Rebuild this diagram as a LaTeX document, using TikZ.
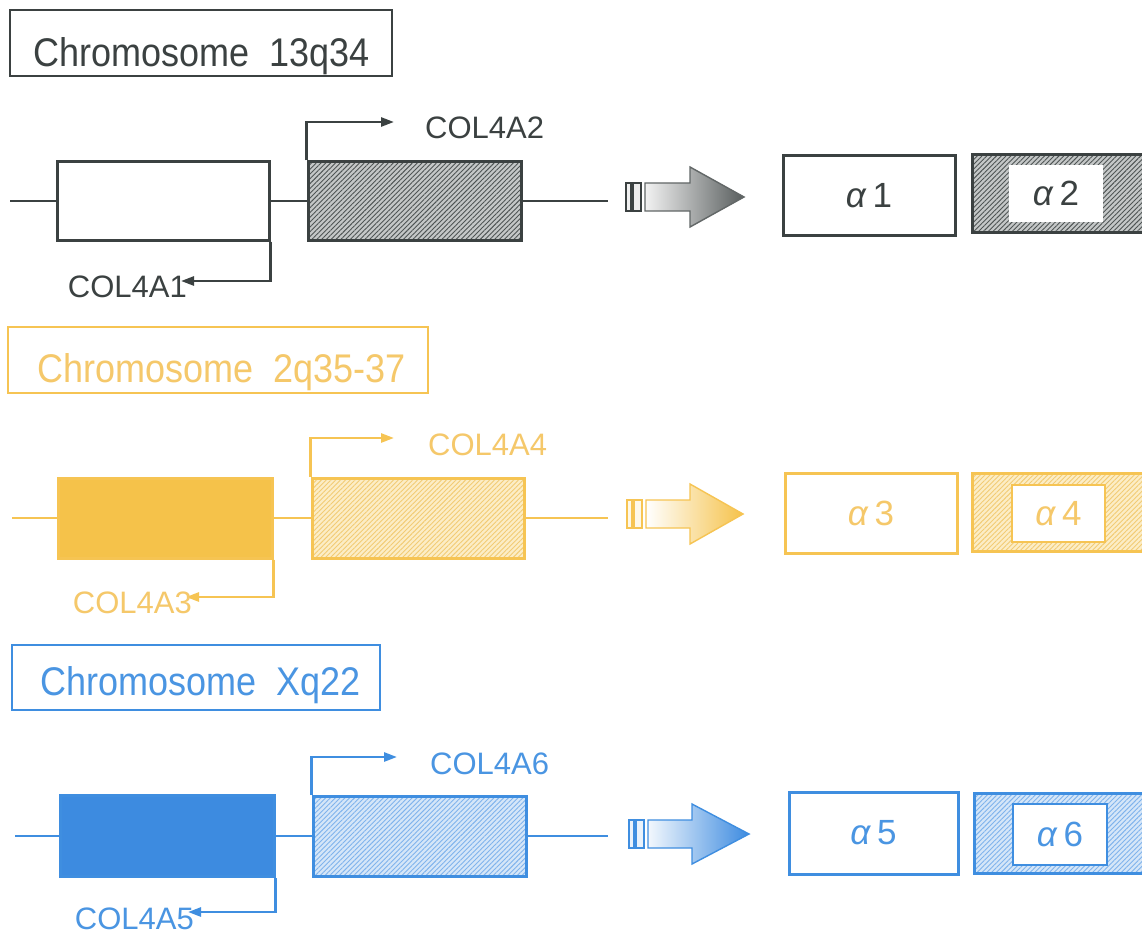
\documentclass[tikz,border=0pt]{standalone}
\usepackage{graphicx}
\usepackage{fontspec}
\setmainfont{Liberation Sans}
\usetikzlibrary{arrows.meta,patterns.meta}
\definecolor{dk}{HTML}{3B4141}
\definecolor{dkhb}{HTML}{C4C7C7}
\definecolor{dkhl}{HTML}{4E5454}
\definecolor{yl}{HTML}{F6C453}
\definecolor{ylfill}{HTML}{F5C24A}
\definecolor{yltext}{HTML}{F5C86A}
\definecolor{ylhb}{HTML}{FCEDC6}
\definecolor{ylhl}{HTML}{F2CB74}
\definecolor{bl}{HTML}{3F8EE0}
\definecolor{blfill}{HTML}{3D8BE0}
\definecolor{bltext}{HTML}{4A95E2}
\definecolor{blhb}{HTML}{D5E6F8}
\definecolor{blhl}{HTML}{7FB3EC}
\tikzset{
  box/.style={draw, line width=3pt, inner sep=0pt, rectangle},
  chrbox/.style={draw, line width=2.2pt, inner sep=0pt, rectangle},
  chrtext/.style={inner sep=0pt, font=\fontsize{40}{48}\selectfont},
  genetext/.style={inner sep=0pt, font=\fontsize{31}{36}\selectfont},
  alphatext/.style={font=\fontsize{35}{40}\selectfont},
  wire/.style={line width=2.6pt},
  prom/.style={line width=2.6pt, -{Triangle[length=13pt,width=9pt]}},
  hatch/.style n args={2}{preaction={fill=#1}, preaction={pattern={Lines[angle=45,distance=3.4pt,line width=0.9pt]}, pattern color=#2}},
}
\newcommand{\chrlabel}[2]{\scalebox{0.9}[1]{#1\hspace{0.55em}#2}}
\newcommand{\alab}[1]{\textit{α}\,#1}
\begin{document}
\begin{tikzpicture}[x=1pt,y=-1pt]
\clip (0,0) rectangle (1142,936);
\fill[white] (0,0) rectangle (1142,936);

% ================= Row 1 =================
\node[chrbox, draw=dk, minimum width=382pt, minimum height=66pt] (chr1) at (201,43) {};
\node[chrtext, text=dk, anchor=base west] (chr1t) at (33,67) {\chrlabel{Chromosome}{13q34}};
\coordinate (l1a) at (10,201);
\node[box, draw=dk, fill=white, minimum width=212pt, minimum height=78pt] (g1) at (163,201) {};
\node[box, draw=dk, hatch={dkhb}{dkhl}, minimum width=213pt, minimum height=78pt] (g2) at (414.5,201) {};
\coordinate (l1b) at (608,201);
\draw[wire, dk] (l1a) -- (g1.west);
\draw[wire, dk] (g1.east) -- (g2.west);
\draw[wire, dk] (g2.east) -- (l1b);
\coordinate (p2) at (394,122);
\draw[prom, dk] (g2.north west) |- (p2);
\node[genetext, text=dk, anchor=base west] (t2) at (425,139) {COL4A2};
\coordinate (p1) at (181,281);
\draw[prom, dk] (g1.south east) |- (p1);
\node[genetext, text=dk, anchor=base east] (t1) at (187,297) {COL4A1};
% block arrow
\draw[line width=1.4pt, dk, fill=gray!12] (626,183) rectangle (631,211);
\draw[line width=1.4pt, dk, fill=gray!15] (633,183) rectangle (641,211);
\draw[line width=1.4pt, draw=dk!80, left color=gray!10, right color=dk!85]
  (645,183) -- (690,183) -- (690,167) -- (744,197) -- (690,227) -- (690,211) -- (645,211) -- cycle;
\node[box, draw=dk, fill=white, minimum width=172pt, minimum height=79pt, alphatext, text=dk] (a1) at (869,195.5) {\alab{1}};
\node[box, draw=dk, hatch={dkhb}{dkhl}, minimum width=178pt, minimum height=77pt] (a2o) at (1061,193.5) {};
\node[inner sep=0pt, fill=white, minimum width=94pt, minimum height=57pt, alphatext, text=dk] (a2) at (1056,193.5) {\alab{2}};

% ================= Row 2 =================
\node[chrbox, draw=yl, minimum width=420pt, minimum height=66pt] (chr2) at (218,360) {};
\node[chrtext, text=yltext, anchor=base west] (chr2t) at (37,382) {\chrlabel{Chromosome}{2q35-37}};
\coordinate (l2a) at (12,518);
\node[box, draw=yl, fill=ylfill, minimum width=214pt, minimum height=80pt] (g3) at (165,518) {};
\node[box, draw=yl, hatch={ylhb}{ylhl}, minimum width=212pt, minimum height=80pt] (g4) at (418,518) {};
\coordinate (l2b) at (608,518);
\draw[wire, yl] (l2a) -- (g3.west);
\draw[wire, yl] (g3.east) -- (g4.west);
\draw[wire, yl] (g4.east) -- (l2b);
\coordinate (p4) at (394,438);
\draw[prom, yl] (g4.north west) |- (p4);
\node[genetext, text=yltext, anchor=base west] (t4) at (428,455) {COL4A4};
\coordinate (p3) at (186,597);
\draw[prom, yl] (g3.south east) |- (p3);
\node[genetext, text=yltext, anchor=base east] (t3) at (192,613) {COL4A3};
\draw[line width=1.4pt, yl, fill=ylhb!40] (627,500) rectangle (632,528);
\draw[line width=1.4pt, yl, fill=ylhb!40] (634,500) rectangle (642,528);
\draw[line width=1.4pt, draw=yl, left color=white, right color=ylfill]
  (646,500) -- (690,500) -- (690,484) -- (743,514) -- (690,544) -- (690,528) -- (646,528) -- cycle;
\node[box, draw=yl, fill=white, minimum width=172pt, minimum height=80pt, alphatext, text=yltext] (a3) at (871,513) {\alab{3}};
\node[box, draw=yl, hatch={ylhb}{ylhl}, minimum width=178pt, minimum height=78pt] (a4o) at (1061,512) {};
\node[draw=yl, line width=1.8pt, inner sep=0pt, fill=white, minimum width=93pt, minimum height=57pt, alphatext, text=yltext] (a4) at (1058.5,513.5) {\alab{4}};

% ================= Row 3 =================
\node[chrbox, draw=bl, minimum width=368pt, minimum height=65pt] (chr3) at (196,677.5) {};
\node[chrtext, text=bltext, anchor=base west] (chr3t) at (40,695) {\chrlabel{Chromosome}{Xq22}};
\coordinate (l3a) at (15,836);
\node[box, draw=bl, fill=blfill, minimum width=214pt, minimum height=81pt] (g5) at (167,836) {};
\node[box, draw=bl, hatch={blhb}{blhl}, minimum width=213pt, minimum height=80pt] (g6) at (419.5,836) {};
\coordinate (l3b) at (608,836);
\draw[wire, bl] (l3a) -- (g5.west);
\draw[wire, bl] (g5.east) -- (g6.west);
\draw[wire, bl] (g6.east) -- (l3b);
\coordinate (p6) at (397,757);
\draw[prom, bl] (g6.north west) |- (p6);
\node[genetext, text=bltext, anchor=base west] (t6) at (430,774) {COL4A6};
\coordinate (p5) at (188,912);
\draw[prom, bl] (g5.south east) |- (p5);
\node[genetext, text=bltext, anchor=base east] (t5) at (194,929) {COL4A5};
\draw[line width=1.4pt, bl, fill=blhb!50] (629,820) rectangle (634,848);
\draw[line width=1.4pt, bl, fill=blhb!50] (636,820) rectangle (644,848);
\draw[line width=1.4pt, draw=bl, left color=blhb!30, right color=blfill]
  (648,820) -- (692,820) -- (692,804) -- (749,834) -- (692,864) -- (692,848) -- (648,848) -- cycle;
\node[box, draw=bl, fill=white, minimum width=169pt, minimum height=82pt, alphatext, text=bltext] (a5) at (873.5,833) {\alab{5}};
\node[box, draw=bl, hatch={blhb}{blhl}, minimum width=176pt, minimum height=80pt] (a6o) at (1062,833) {};
\node[draw=bl, line width=2pt, inner sep=0pt, fill=white, minimum width=94pt, minimum height=61pt, alphatext, text=bltext] (a6) at (1060,834.5) {\alab{6}};
\end{tikzpicture}
\end{document}
